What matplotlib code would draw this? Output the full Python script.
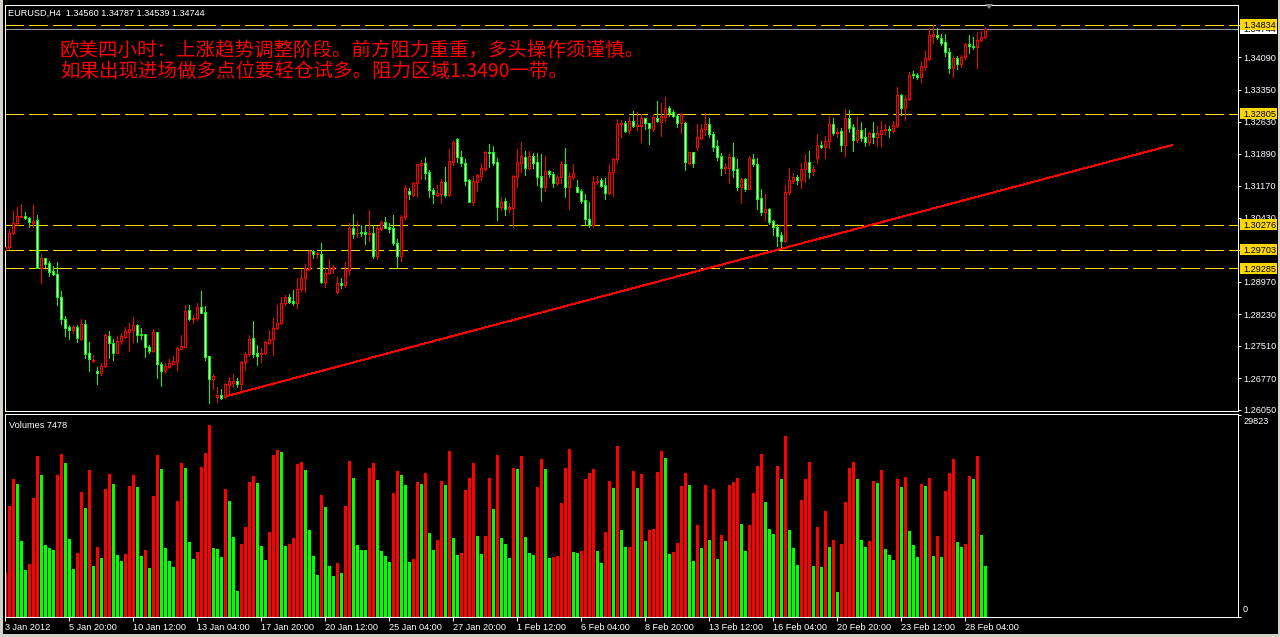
import matplotlib
matplotlib.use("Agg")
import matplotlib.pyplot as plt
from matplotlib.patches import Rectangle, Polygon

# ---------------- data ----------------
header_text = "EURUSD,H4  1.34560 1.34787 1.34539 1.34744"
note_line1 = "欧美四小时：上涨趋势调整阶段。前方阻力重重，多头操作须谨慎。"
note_line2 = "如果出现进场做多点位要轻仓试多。阻力区域1.3490一带。"

opens = [1.29700, 1.29761, 1.30080, 1.30308, 1.30460, 1.30475, 1.30437, 1.30323, 1.30384, 1.29297,
         1.29510, 1.29396, 1.29221, 1.29145, 1.28621, 1.28119, 1.27944, 1.27868, 1.27952, 1.27671,
         1.28005, 1.27344, 1.27176, 1.26941, 1.26888, 1.27055, 1.27747, 1.27572, 1.27359, 1.27633,
         1.27724, 1.27838, 1.27876, 1.27990, 1.27777, 1.27777, 1.27481, 1.27397, 1.27823, 1.27093,
         1.26964, 1.27040, 1.27108, 1.27154, 1.27450, 1.27496, 1.28332, 1.28119, 1.28142, 1.28393,
         1.28279, 1.27283, 1.26766, 1.26341, 1.26394, 1.26341, 1.26622, 1.26675, 1.26713, 1.26645,
         1.27139, 1.27329, 1.27686, 1.27352, 1.27329, 1.27344, 1.27587, 1.27663, 1.27914, 1.28028,
         1.28484, 1.28621, 1.28537, 1.28499, 1.28803, 1.29054, 1.29267, 1.29677, 1.29609, 1.29609,
         1.28978, 1.29168, 1.29274, 1.28750, 1.28940, 1.28902, 1.29244, 1.30194, 1.30080, 1.30103,
         1.30103, 1.30065, 1.30080, 1.29563, 1.30179, 1.30331, 1.30232, 1.30209, 1.29852, 1.29571,
         1.30460, 1.31046, 1.30955, 1.31221, 1.31639, 1.31677, 1.31479, 1.31069, 1.30955, 1.30970,
         1.31244, 1.30955, 1.31715, 1.32232, 1.31829, 1.31677, 1.31297, 1.30803, 1.31259, 1.31396,
         1.31548, 1.31935, 1.31928, 1.31700, 1.30674, 1.30811, 1.30636, 1.30666, 1.31373, 1.31692,
         1.31814, 1.31578, 1.31844, 1.31700, 1.31388, 1.31145, 1.31502, 1.31434, 1.31236, 1.31358,
         1.31662, 1.31145, 1.31373, 1.31130, 1.31054, 1.30841, 1.30400, 1.30271, 1.31244, 1.31297,
         1.31183, 1.31008, 1.31472, 1.31776, 1.32566, 1.32597, 1.32437, 1.32650, 1.32536, 1.32536,
         1.32703, 1.32589, 1.32460, 1.32718, 1.32627, 1.32741, 1.32931, 1.32840, 1.32756, 1.32589,
         1.32589, 1.31692, 1.31928, 1.32057, 1.32262, 1.32452, 1.32566, 1.32338, 1.32072, 1.31844,
         1.31578, 1.31578, 1.31814, 1.31540, 1.31145, 1.31320, 1.31099, 1.31776, 1.31654, 1.30879,
         1.30575, 1.30636, 1.30362, 1.30233, 1.30043, 1.29914, 1.31016, 1.31282, 1.31373, 1.31297,
         1.31540, 1.31700, 1.31510, 1.31791, 1.32095, 1.32057, 1.32194, 1.32566, 1.32361, 1.32414,
         1.32095, 1.32703, 1.32498, 1.32209, 1.32437, 1.32270, 1.32171, 1.32361, 1.32270, 1.32338,
         1.32429, 1.32460, 1.32422, 1.32536, 1.33235, 1.32931, 1.33136, 1.33714, 1.33691, 1.33638,
         1.33881, 1.34056, 1.34588, 1.34603, 1.34527, 1.34436, 1.34223, 1.33858, 1.34071, 1.33942,
         1.34094, 1.34398, 1.34360, 1.34337, 1.34489, 1.34560]
highs = [1.29890, 1.30171, 1.30597, 1.30673, 1.30749, 1.30559, 1.30460, 1.30726, 1.30498, 1.29601,
         1.29510, 1.29457, 1.29335, 1.29426, 1.28765, 1.28195, 1.27990, 1.27990, 1.27990, 1.28127,
         1.28104, 1.27602, 1.27306, 1.27040, 1.27131, 1.27785, 1.27853, 1.27663, 1.27747, 1.27815,
         1.27937, 1.28043, 1.28165, 1.28005, 1.27914, 1.27785, 1.27534, 1.27891, 1.27838, 1.27139,
         1.27116, 1.27207, 1.27291, 1.27481, 1.27762, 1.28446, 1.28446, 1.28218, 1.28484, 1.28765,
         1.28423, 1.27291, 1.26865, 1.26569, 1.26523, 1.26660, 1.26812, 1.26873, 1.26789, 1.27176,
         1.27367, 1.27762, 1.28081, 1.27534, 1.27458, 1.27633, 1.27876, 1.28142, 1.28446, 1.28636,
         1.28674, 1.28697, 1.28788, 1.29054, 1.29244, 1.29381, 1.29700, 1.29700, 1.29662, 1.29867,
         1.29282, 1.29495, 1.29358, 1.29077, 1.29069, 1.29434, 1.30308, 1.30521, 1.30369, 1.30270,
         1.30270, 1.30612, 1.30270, 1.30247, 1.30369, 1.30460, 1.30308, 1.30498, 1.29951, 1.30498,
         1.31182, 1.31107, 1.31244, 1.31662, 1.31753, 1.31829, 1.31525, 1.31107, 1.31183, 1.31312,
         1.31586, 1.31996, 1.32186, 1.32262, 1.31958, 1.31768, 1.31312, 1.31388, 1.31434, 1.31677,
         1.31958, 1.32118, 1.32072, 1.31791, 1.30902, 1.30879, 1.30765, 1.31411, 1.31996, 1.32156,
         1.31958, 1.31958, 1.31905, 1.31905, 1.31882, 1.31844, 1.31525, 1.31472, 1.31411, 1.31730,
         1.32019, 1.31487, 1.31654, 1.31297, 1.31084, 1.30978, 1.30788, 1.31388, 1.31388, 1.31335,
         1.31335, 1.31662, 1.31806, 1.32680, 1.32665, 1.32642, 1.32726, 1.32870, 1.32840, 1.32802,
         1.32718, 1.32604, 1.32794, 1.33098, 1.33045, 1.33182, 1.32984, 1.32893, 1.32794, 1.32817,
         1.32612, 1.31943, 1.31943, 1.32574, 1.32566, 1.32817, 1.32718, 1.32399, 1.32209, 1.31905,
         1.31677, 1.31890, 1.32148, 1.31768, 1.31335, 1.31335, 1.31844, 1.31882, 1.31791, 1.31092,
         1.30978, 1.30666, 1.30385, 1.30293, 1.30104, 1.31183, 1.31563, 1.31449, 1.31411, 1.31677,
         1.31882, 1.31958, 1.31639, 1.32346, 1.32194, 1.32300, 1.32756, 1.32703, 1.32475, 1.32475,
         1.32908, 1.32893, 1.32574, 1.32741, 1.32627, 1.32475, 1.32399, 1.32612, 1.32528, 1.32642,
         1.32566, 1.32528, 1.32642, 1.33425, 1.33258, 1.33235, 1.33767, 1.33782, 1.33744, 1.34010,
         1.34238, 1.34755, 1.34834, 1.34755, 1.34626, 1.34626, 1.34299, 1.34147, 1.34124, 1.34147,
         1.34428, 1.34603, 1.34550, 1.34679, 1.34702, 1.34787]
lows = [1.29662, 1.29715, 1.30065, 1.30270, 1.30445, 1.30414, 1.30232, 1.30232, 1.29297, 1.28955,
        1.29320, 1.29107, 1.29130, 1.28446, 1.28005, 1.27739, 1.27678, 1.27815, 1.27610, 1.27648,
        1.27245, 1.26941, 1.27139, 1.26645, 1.26850, 1.27040, 1.27230, 1.27192, 1.27344, 1.27557,
        1.27686, 1.27405, 1.27610, 1.27610, 1.27663, 1.27268, 1.27344, 1.27382, 1.26789, 1.26607,
        1.26903, 1.27002, 1.27093, 1.26964, 1.27435, 1.27481, 1.28104, 1.28043, 1.28104, 1.28256,
        1.27192, 1.26219, 1.26523, 1.26242, 1.26295, 1.26318, 1.26394, 1.26584, 1.26584, 1.26470,
        1.26964, 1.27291, 1.27268, 1.27078, 1.27154, 1.27329, 1.27557, 1.27306, 1.27891, 1.28013,
        1.28446, 1.28499, 1.28446, 1.28370, 1.28765, 1.28735, 1.29244, 1.29525, 1.29510, 1.28940,
        1.28849, 1.29153, 1.29168, 1.28727, 1.28826, 1.28864, 1.29130, 1.29966, 1.30004, 1.30019,
        1.29837, 1.29913, 1.29525, 1.29495, 1.30156, 1.30194, 1.30118, 1.29814, 1.29282, 1.29457,
        1.30406, 1.30857, 1.30932, 1.30917, 1.31312, 1.31312, 1.30917, 1.30765, 1.30932, 1.30780,
        1.30917, 1.30932, 1.31639, 1.31715, 1.31624, 1.31183, 1.30788, 1.30727, 1.31046, 1.31297,
        1.31525, 1.31601, 1.31639, 1.30385, 1.30613, 1.30499, 1.30575, 1.30233, 1.31145, 1.31487,
        1.31411, 1.31548, 1.31578, 1.31183, 1.30826, 1.31046, 1.31373, 1.31145, 1.31183, 1.31221,
        1.30917, 1.30636, 1.31312, 1.31016, 1.30765, 1.30271, 1.30233, 1.30233, 1.31206, 1.31130,
        1.30857, 1.30978, 1.30932, 1.31677, 1.32285, 1.32399, 1.32361, 1.32498, 1.32437, 1.32171,
        1.32460, 1.32118, 1.32422, 1.32627, 1.32300, 1.32650, 1.32764, 1.32741, 1.32513, 1.32361,
        1.31525, 1.31662, 1.31601, 1.31981, 1.32232, 1.32323, 1.32285, 1.31958, 1.31753, 1.31411,
        1.31464, 1.31236, 1.31373, 1.31069, 1.30780, 1.31046, 1.31084, 1.31624, 1.30636, 1.30499,
        1.30385, 1.30293, 1.30043, 1.29792, 1.29716, 1.29891, 1.30978, 1.31221, 1.31206, 1.31122,
        1.31259, 1.31350, 1.31411, 1.31692, 1.32019, 1.31791, 1.32019, 1.32323, 1.32270, 1.31958,
        1.31844, 1.32399, 1.31958, 1.32171, 1.32194, 1.32072, 1.32095, 1.32133, 1.32072, 1.32072,
        1.32338, 1.32285, 1.32399, 1.32513, 1.32779, 1.32665, 1.33121, 1.33615, 1.33592, 1.33539,
        1.33805, 1.34033, 1.34428, 1.34512, 1.34375, 1.34124, 1.33744, 1.33638, 1.33820, 1.33881,
        1.34056, 1.34185, 1.34276, 1.33858, 1.34474, 1.34539]
closes = [1.29776, 1.30080, 1.30308, 1.30475, 1.30478, 1.30430, 1.30331, 1.30361, 1.29297, 1.29510,
          1.29381, 1.29206, 1.29145, 1.28621, 1.28119, 1.27929, 1.27868, 1.27944, 1.27686, 1.28005,
          1.27329, 1.27207, 1.27199, 1.26888, 1.27055, 1.27762, 1.27572, 1.27359, 1.27633, 1.27739,
          1.27853, 1.27891, 1.27990, 1.27762, 1.27762, 1.27481, 1.27405, 1.27823, 1.27093, 1.26949,
          1.27055, 1.27116, 1.27169, 1.27458, 1.27511, 1.28309, 1.28119, 1.28157, 1.28393, 1.28271,
          1.27268, 1.26751, 1.26827, 1.26394, 1.26318, 1.26637, 1.26713, 1.26713, 1.26645, 1.27139,
          1.27329, 1.27663, 1.27329, 1.27291, 1.27359, 1.27610, 1.27671, 1.27929, 1.28028, 1.28484,
          1.28621, 1.28522, 1.28492, 1.28803, 1.29054, 1.29282, 1.29677, 1.29601, 1.29624, 1.28978,
          1.29168, 1.29282, 1.29312, 1.28940, 1.28902, 1.29267, 1.30194, 1.30065, 1.30095, 1.30080,
          1.30057, 1.30088, 1.29563, 1.30194, 1.30331, 1.30209, 1.30179, 1.29852, 1.29571, 1.30460,
          1.31113, 1.30970, 1.31221, 1.31662, 1.31692, 1.31461, 1.31069, 1.30970, 1.30993, 1.31244,
          1.30955, 1.31730, 1.32156, 1.31829, 1.31677, 1.31282, 1.30803, 1.31274, 1.31411, 1.31563,
          1.31935, 1.31920, 1.31692, 1.30689, 1.30803, 1.30636, 1.30674, 1.31388, 1.31715, 1.31844,
          1.31578, 1.31844, 1.31692, 1.31373, 1.31145, 1.31502, 1.31426, 1.31236, 1.31358, 1.31662,
          1.31145, 1.31388, 1.31449, 1.31031, 1.30818, 1.30400, 1.30271, 1.31244, 1.31282, 1.31160,
          1.31008, 1.31472, 1.31776, 1.32574, 1.32597, 1.32422, 1.32650, 1.32536, 1.32551, 1.32703,
          1.32589, 1.32475, 1.32726, 1.32650, 1.32756, 1.32931, 1.32832, 1.32764, 1.32589, 1.32802,
          1.31715, 1.31928, 1.31692, 1.32270, 1.32460, 1.32566, 1.32338, 1.32057, 1.31829, 1.31578,
          1.31601, 1.31814, 1.31525, 1.31145, 1.31320, 1.31092, 1.31806, 1.31654, 1.30864, 1.30575,
          1.30628, 1.30347, 1.30218, 1.30028, 1.29914, 1.31016, 1.31297, 1.31358, 1.31297, 1.31540,
          1.31700, 1.31487, 1.31540, 1.32095, 1.32057, 1.32194, 1.32566, 1.32361, 1.32384, 1.32095,
          1.32703, 1.32490, 1.32209, 1.32437, 1.32262, 1.32171, 1.32361, 1.32270, 1.32361, 1.32437,
          1.32460, 1.32429, 1.32551, 1.33235, 1.32931, 1.33136, 1.33691, 1.33691, 1.33638, 1.33896,
          1.34071, 1.34603, 1.34626, 1.34550, 1.34428, 1.34223, 1.33858, 1.34071, 1.33934, 1.34094,
          1.34398, 1.34352, 1.34337, 1.34489, 1.34550, 1.34744]

volumes = [6450, 16340, 20320, 19590, 11170, 6890, 7780, 17520, 23720, 20910,
           10580, 10140, 9840, 20910, 24010, 22690, 11470, 7040, 9400, 18410,
           16040, 21650, 7480, 10290, 8660, 18850, 21060, 19590, 9110, 8220,
           9250, 19290, 20910, 19140, 8960, 9840, 7190, 17820, 23870, 21800,
           10140, 8220, 7340, 17080, 22690, 21950, 11030, 8520, 9550, 22100,
           24160, 28290, 10140, 10100, 8810, 18850, 17080, 11760, 3790, 10730,
           13240, 19930, 20770, 19730, 10440, 8370, 12500, 23870, 24610, 24310,
           10440, 10730, 11620, 22540, 22830, 21650, 12800, 8960, 6150, 18010,
           16240, 7530, 6050, 7970, 6500, 16380, 23030, 20520, 10630, 9890,
           9860, 21990, 22730, 20220, 9740, 9000, 8120, 18300, 21550, 20960,
           19480, 8120, 8560, 19930, 19630, 21250, 12400, 9890, 11370, 20070,
           19480, 24500, 11660, 9150, 9450, 18750, 20520, 22730, 11960, 9300,
           11960, 20520, 15940, 23910, 11660, 10770, 8710, 21990, 21900, 23760,
           11810, 9450, 9150, 19190, 23320, 21840, 8710, 8860, 9000, 16830,
           21990, 24800, 9590, 9520, 9740, 20370, 21250, 21840, 9740, 7970,
           12550, 20070, 19040, 25240, 12840, 10330, 10400, 21550, 19040, 21110,
           11220, 12840, 12990, 21400, 24500, 23470, 9300, 9590, 10920, 19340,
           21250, 19480, 8270, 13580, 10180, 19480, 11370, 18890, 8560, 12100,
           11220, 19480, 19930, 20520, 13730, 9740, 13580, 18300, 22290, 24060,
           16970, 12990, 12250, 22290, 20370, 26720, 12840, 10180, 7680, 17270,
           20370, 22880, 7530, 13280, 7380, 15650, 10330, 11370, 3690, 10770,
           16970, 21990, 22880, 20370, 11370, 10330, 11220, 20070, 19780, 21700,
           10040, 9150, 8410, 20370, 19190, 20660, 12690, 10630, 8860, 19630,
           19340, 20520, 9000, 11960, 8860, 18600, 21250, 23320, 11070, 10330,
           10770, 20810, 20370, 23760, 12100, 7478]
volume_colors = ("RRRGGGRRRG" "GGGRRGGGRR" "GRGRGRRGGG" "RRRGGRGRRG" "GGGRRGGGRR"
                 "RRGGGRGGGR" "RRRGGGRRRG" "GRRRRGGGGR" "GGGRGRRGGG" "GRRGGGGRRG"
                 "GGRRGRGGRR" "GRGGRRRRGG" "RRGRGGGRGR" "GGGRRGGRRR" "RRGGRRRRGG"
                 "RRGRGGRRGR" "GRRRRGGRRR" "RGGRGRGRGR" "GRRRGGRRRR" "GGGRGRGGGR"
                 "RRGRGRGRGR" "RRRGGGRRGR" "GGGRGRGGGR" "GRGRGRRRGG" "RRGRGG")

resistance_levels = [1.34834, 1.32805, 1.30276, 1.29703, 1.29285]
bid_price = 1.34744
price_ticks = [1.34830, 1.34090, 1.33350, 1.32630, 1.31890, 1.31170, 1.30430,
               1.29700, 1.28970, 1.28230, 1.27510, 1.26770, 1.26050]
hidden_tick_labels = [1.34830, 1.29700]   # fully covered by the gold level labels
time_tick_bars = [0, 16, 32, 48, 64, 80, 96, 112, 128, 144, 160, 176, 192, 208, 224, 240]
time_tick_labels = ["3 Jan 2012", "5 Jan 20:00", "10 Jan 12:00", "13 Jan 04:00",
                    "17 Jan 20:00", "20 Jan 12:00", "25 Jan 04:00", "27 Jan 20:00",
                    "1 Feb 12:00", "6 Feb 04:00", "8 Feb 20:00", "13 Feb 12:00",
                    "16 Feb 04:00", "20 Feb 20:00", "23 Feb 12:00", "28 Feb 04:00"]
trend_bars = [55.5, 291.75]
trend_prices = [1.26369, 1.32094]
volume_scale_max = 29823
volume_title = "Volumes 7478"

# ---------------- style ----------------
plt.rcParams['font.family'] = ['Liberation Sans', 'DejaVu Sans']
plt.rcParams['lines.scale_dashes'] = False

W, H = 1280, 637
RED = '#FF0000'
LIME = '#00FF00'
GOLD = '#FFD700'
SMALL = 6.6
LW = 0.72   # one pixel

def fx(px):
    return px / W

def fy(py):
    return 1 - py / H

fig = plt.figure(figsize=(W / 100, H / 100), dpi=100, facecolor='black')

AX_L, AX_R = 4.5, 1238.0
ax = fig.add_axes([fx(AX_L), fy(411), fx(AX_R) - fx(AX_L), fy(5) - fy(411)])
axv = fig.add_axes([fx(AX_L), fy(617), fx(AX_R) - fx(AX_L), fy(414) - fy(617)])

def af(px):
    return (px - AX_L) / (AX_R - AX_L)

PX_PRICE = 0.0002281
for a in (ax, axv):
    a.set_facecolor('black')
    for s in a.spines.values():
        s.set_color('white')
        s.set_linewidth(LW)
    a.set_xlim(-0.125, 308.25)

ax.set_ylim(1.260267, 1.352875)
axv.set_ylim(0, 29963)

n = len(closes)
xs = list(range(n))

# resistance lines & bid line
for lv in resistance_levels:
    ax.axhline(lv, color=GOLD, lw=LW, linestyle=(0, (13.0, 4.3)), zorder=1, antialiased=False)
ax.axhline(bid_price, color='#9a9a9a', lw=LW, zorder=1, antialiased=False)

# candles
edge_cols = [RED if c >= o else LIME for o, c in zip(opens, closes)]
fill_cols = ['black' if c >= o else 'white' for o, c in zip(opens, closes)]
bottoms = [min(o, c) for o, c in zip(opens, closes)]
heights = [max(abs(c - o), 1e-6) for o, c in zip(opens, closes)]
ax.vlines(xs, lows, highs, colors=edge_cols, linewidth=LW, zorder=2, antialiased=False)
ax.bar(xs, heights, bottom=bottoms, width=0.5, color=fill_cols, edgecolor=edge_cols,
       linewidth=LW, zorder=3, antialiased=False)

# trend line
ax.plot(trend_bars, trend_prices, color=RED, lw=LW, zorder=4, antialiased=False)

# price axis ticks
ax.yaxis.tick_right()
ax.set_yticks(price_ticks)
ax.set_yticklabels(['' if p in hidden_tick_labels else f"{p:.5f}" for p in price_ticks])
ax.tick_params(axis='y', colors='white', length=2.2, width=LW, pad=2.0, labelsize=SMALL)
ax.set_xticks([])

# bid label (white, partly under the gold label) and resistance labels (gold)
box_h = 11 * PX_PRICE
tr = ax.get_yaxis_transform()
ax.add_patch(Rectangle((af(1240.5), bid_price - box_h / 2), af(1277) - af(1240.5), box_h,
                       transform=tr, facecolor='white', edgecolor='none', clip_on=False, zorder=6))
bid_txt = ax.text(af(1243.5), bid_price, f"{bid_price:.5f}", transform=tr, color='black',
                  fontsize=SMALL, ha='left', va='center_baseline', zorder=7)
bid_clip = Rectangle((af(1240.5), bid_price - box_h / 2), af(1277) - af(1240.5),
                     (resistance_levels[0] - box_h / 2) - (bid_price - box_h / 2), transform=tr)
bid_txt.set_clip_path(bid_clip)
for lv in resistance_levels:
    ax.add_patch(Rectangle((af(1240.5), lv - box_h / 2), af(1277) - af(1240.5), box_h,
                           transform=tr, facecolor=GOLD, edgecolor='none', clip_on=False, zorder=8))
    ax.text(af(1243.5), lv, f"{lv:.5f}", transform=tr, color='black', fontsize=SMALL,
            ha='left', va='center_baseline', clip_on=False, zorder=9)

# volumes
vcols = [RED if ch == 'R' else LIME for ch in volume_colors]
axv.bar(xs, volumes, width=0.75, color=vcols, linewidth=0, antialiased=False, zorder=2)
axv.yaxis.tick_right()
axv.set_yticks([0, volume_scale_max])
axv.set_yticklabels(['', ''])
axv.tick_params(axis='y', colors='white', length=2.2, width=LW)
axv.text(af(1243), 0.9655, f"{volume_scale_max}", transform=axv.transAxes, color='white',
         fontsize=SMALL, ha='left', va='center', clip_on=False)
axv.text(af(1243), 0.0345, "0", transform=axv.transAxes, color='white',
         fontsize=SMALL, ha='left', va='center', clip_on=False)
axv.text(af(9), 1 - (428 - 414) / 203, volume_title, transform=axv.transAxes, color='white',
         fontsize=SMALL, ha='left', va='baseline')

axv.set_xticks(time_tick_bars)
axv.set_xticklabels(time_tick_labels)
axv.tick_params(axis='x', colors='white', length=2.8, width=LW, pad=1.2, labelsize=SMALL)
for lab in axv.get_xticklabels():
    lab.set_horizontalalignment('left')

# header & note text
fig.text(fx(8), fy(16), header_text, color='white', fontsize=SMALL, ha='left', va='baseline')
cjk = ['Noto Sans CJK SC', 'DejaVu Sans']
fig.text(fx(60), fy(50.5), note_line1, color=RED, fontsize=14, family=cjk, ha='left', va='center')
fig.text(fx(60), fy(71.5), note_line2, color=RED, fontsize=14, family=cjk, ha='left', va='center')

# chart-shift marker and window frame
fig.patches.append(Polygon([(fx(985), fy(4)), (fx(993), fy(4)), (fx(989), fy(9))],
                           closed=True, transform=fig.transFigure, facecolor='#808080',
                           edgecolor='none'))
fig.patches.append(Rectangle((0, 0), fx(3), 1, transform=fig.transFigure,
                             facecolor='#d4d0c8', edgecolor='none'))
fig.patches.append(Rectangle((fx(1278), 0), fx(2), 1, transform=fig.transFigure,
                             facecolor='#d4d0c8', edgecolor='none'))
fig.patches.append(Rectangle((0, 0), 1, 3 / H, transform=fig.transFigure,
                             facecolor='#d4d0c8', edgecolor='none'))

fig.savefig('out.png', dpi=100, facecolor='black')
